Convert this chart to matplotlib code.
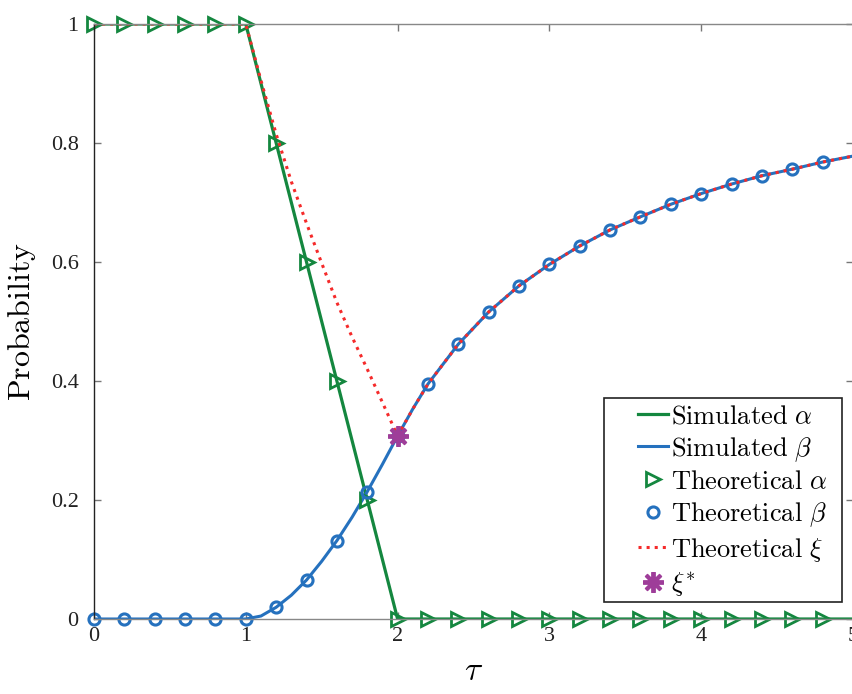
import numpy as np
import matplotlib.pyplot as plt
from matplotlib.patches import Rectangle

plt.rcParams['font.family'] = ['Liberation Serif', 'DejaVu Serif']
plt.rcParams['mathtext.fontset'] = 'cm'

# simulated curves
tau_sim = [0, 1.0, 1.1, 1.2, 1.3, 1.4, 1.5, 1.6, 1.7, 1.8, 1.9, 2.0, 2.1, 2.2,
           2.4, 2.6, 2.8, 3.0, 3.2, 3.4, 3.6, 3.8, 4.0, 4.2, 4.4, 4.6, 4.8, 5.0]
beta_sim = [0, 0, 0.005, 0.0197, 0.040, 0.0655, 0.097, 0.1317, 0.171, 0.214, 0.260,
            0.3076, 0.353, 0.395, 0.462, 0.516, 0.560, 0.596, 0.627, 0.654, 0.676,
            0.697, 0.715, 0.731, 0.745, 0.756, 0.768, 0.778]
tau_alpha_sim = [0, 1, 2, 5]
alpha_sim = [1, 1, 0, 0]

# theoretical points
tau_th = [0, 0.2, 0.4, 0.6, 0.8, 1.0, 1.2, 1.4, 1.6, 1.8, 2.0, 2.2, 2.4, 2.6, 2.8,
          3.0, 3.2, 3.4, 3.6, 3.8, 4.0, 4.2, 4.4, 4.6, 4.8]
alpha_th = [1, 1, 1, 1, 1, 1, 0.8, 0.6, 0.4, 0.2, 0, 0, 0, 0, 0,
            0, 0, 0, 0, 0, 0, 0, 0, 0, 0]
beta_th = [0, 0, 0, 0, 0, 0, 0.0197, 0.0655, 0.1317, 0.214, 0.3076, 0.395, 0.462,
           0.516, 0.560, 0.596, 0.627, 0.654, 0.676, 0.697, 0.715, 0.731, 0.745,
           0.756, 0.768]

# theoretical xi (before it joins beta at tau = 2)
tau_xi_left = [0, 1.0, 1.1, 1.2, 1.3, 1.4, 1.5, 1.6, 1.7, 1.8, 1.9]
xi_left = [1, 1, 0.905, 0.815, 0.735, 0.665, 0.598, 0.532, 0.474, 0.42, 0.364]
xi_star = (2.0, 0.3076)

green = '#14873F'
blue = '#2571BE'
red = '#F52A2A'
purple = '#9E3D99'

fig = plt.figure(figsize=(8.52, 6.94), dpi=100)
ax = fig.add_axes([94 / 852, 1 - 619 / 694, 759 / 852, 595 / 694])

ax.plot(tau_alpha_sim, alpha_sim, '-', color=green, lw=2.3, label=r'$\mathrm{Simulated}\ \alpha$')
ax.plot(tau_sim, beta_sim, '-', color=blue, lw=2.2, label=r'$\mathrm{Simulated}\ \beta$')
ax.plot(tau_th, alpha_th, '>', color=green, mfc='none', mew=2, ms=10.5, clip_on=False,
        label=r'$\mathrm{Theoretical}\ \alpha$')
ax.plot(tau_th, beta_th, 'o', color=blue, mfc='none', mew=2.2, ms=8, clip_on=False,
        label=r'$\mathrm{Theoretical}\ \beta$')
i2 = tau_sim.index(2.0)
tau_xi = tau_xi_left + tau_sim[i2:]
xi = xi_left + beta_sim[i2:]
ax.plot(tau_xi, xi, ':', color=red, lw=2.2, label=r'$\mathrm{Theoretical}\ \xi$')
ax.plot([xi_star[0]], [xi_star[1]], marker=(8, 2, 0), color=purple, ms=15, mew=2.8, ls='none',
        label=r'$\xi^{*}$')

ax.set_xlim(0, 5)
ax.set_ylim(0, 1)
ax.set_xticks([0, 1, 2, 3, 4, 5])
ax.set_yticks([0, 0.2, 0.4, 0.6, 0.8, 1])
ax.set_xticklabels(['0', '1', '2', '3', '4', '5'])
ax.set_yticklabels(['0', '0.2', '0.4', '0.6', '0.8', '1'])
ax.tick_params(direction='in', length=5, width=1, colors='#777777', labelcolor='#222222',
               labelsize=16, top=True, right=True)
ax.tick_params(axis='y', pad=11)
ax.tick_params(axis='x', pad=6)
for side in ['top', 'bottom', 'right']:
    ax.spines[side].set_color('#888888')
ax.spines['left'].set_color('#222222')
for s in ax.spines.values():
    s.set_linewidth(1)

ax.set_xlabel(r'$\tau$', fontsize=24, labelpad=7)
ax.set_ylabel(r'$\mathrm{Probability}$', fontsize=23, labelpad=9)

# legend box drawn separately so the padding can match
ax.add_patch(Rectangle((0.6715, 0.0286), 0.314, 0.343, transform=ax.transAxes,
                       facecolor='white', edgecolor='#222222', lw=1.2, zorder=4))
leg = ax.legend(loc='lower right', bbox_to_anchor=(0.966, 0.035), borderaxespad=0,
                borderpad=0, fontsize=19, handlelength=1.15, handletextpad=0.12,
                labelspacing=0.25, frameon=False)
leg.set_zorder(5)

fig.savefig('out.png', dpi=100)
